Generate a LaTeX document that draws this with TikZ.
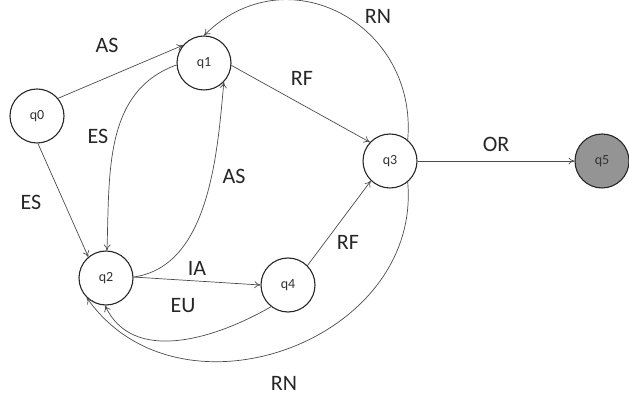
\documentclass[tikz,border=0pt]{standalone}
\usepackage{fontspec}
\setmainfont{Carlito}
\usetikzlibrary{arrows.meta}
\tikzset{
  state/.style={circle,draw=black!85,line width=1.1pt,minimum size=54pt,inner sep=0pt,fill=white,font=\fontsize{14}{14}\selectfont,text=black!80},
  final/.style={state,fill=black!42},
  edge/.style={draw=black!70,line width=0.7pt,-{To[length=6pt,width=7pt]}},
  lbl/.style={font=\fontsize{22}{22}\selectfont,text=black!85,inner sep=0pt}
}
\begin{document}
\begin{tikzpicture}[x=1pt,y=1pt]
\useasboundingbox (0,0) rectangle (629,396);
\node[state] (q0) at (37,280) {q0};
\node[state] (q1) at (204,333) {q1};
\node[state] (q2) at (106,118) {q2};
\node[state] (q4) at (288,111) {q4};
\node[state] (q3) at (390,235) {q3};
\node[final] (q5) at (602,235) {q5};

\draw[edge] (q0.40) -- (q1.140);
\draw[edge] (q0.-88) -- (q2.130);
\draw[edge] (q1.184) to[out=200,in=88] (q2.88);
\draw[edge] (q2.2) to[out=8,in=-95,looseness=0.9] (q1.-44);
\draw[edge] (q1.-5) -- (q3.137);
\draw[edge] (q3.50) to[out=85,in=45,looseness=1.3] (q1.90);
\draw[edge] (q3.-50) to[out=-85,in=-55,looseness=1.2] (q2.-134);
\draw[edge] (q2.2) -- (q4.180);
\draw[edge] (q4.-128) to[out=-150,in=-65] (q2.-92);
\draw[edge] (q4.45) -- (q3.226);
\draw[edge] (q3) -- (q5);

\node[lbl] (lAS1) at (107,351) {AS};
\node[lbl] (lES1) at (31,194) {ES};
\node[lbl] (lES2) at (98,260) {ES};
\node[lbl] (lAS2) at (234,220) {AS};
\node[lbl] (lRF1) at (302,318) {RF};
\node[lbl] (lRN1) at (378,380) {RN};
\node[lbl] (lOR) at (496,252) {OR};
\node[lbl] (lIA) at (197,128) {IA};
\node[lbl] (lEU) at (183,90) {EU};
\node[lbl] (lRF2) at (348,154) {RF};
\node[lbl] (lRN2) at (284,13) {RN};
\end{tikzpicture}
\end{document}
